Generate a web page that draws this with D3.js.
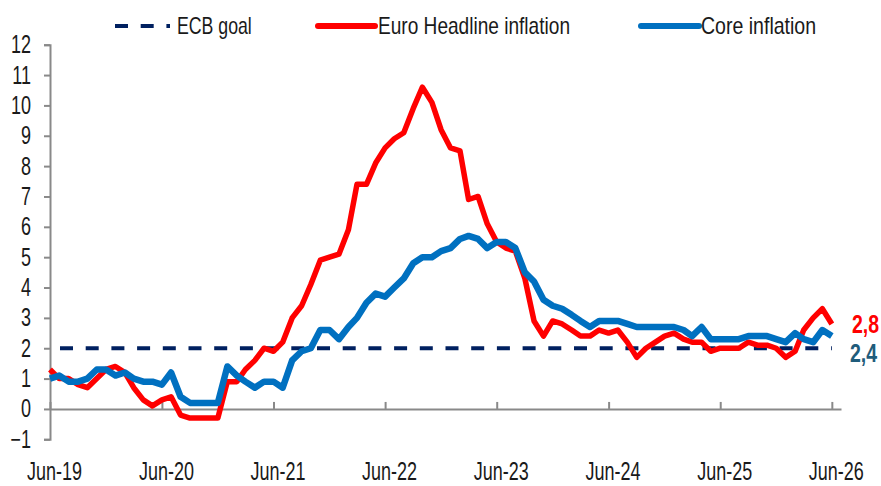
<!DOCTYPE html>
<html>
<head>
<meta charset="utf-8">
<script src="https://cdn.jsdelivr.net/npm/d3@7"></script>
<style>
  html, body { margin: 0; padding: 0; background: #fff; }
  svg { display: block; }
</style>
</head>
<body>
<div id="chart"></div>
<script>
// Monthly categories: Jun-19 .. Jun-26
const months = d3.timeMonth.range(new Date(2019, 5, 1), new Date(2026, 6, 1));

// Euro area headline HICP, % y/y
const headline = [
  1.3, 1.0, 1.0, 0.8, 0.7, 1.0, 1.3,
  1.4, 1.2, 0.7, 0.3, 0.1, 0.3, 0.4, -0.2, -0.3, -0.3, -0.3, -0.3,
  0.9, 0.9, 1.3, 1.6, 2.0, 1.9, 2.2, 3.0, 3.4, 4.1, 4.9, 5.0,
  5.1, 5.9, 7.4, 7.4, 8.1, 8.6, 8.9, 9.1, 9.9, 10.6, 10.1, 9.2,
  8.6, 8.5, 6.9, 7.0, 6.1, 5.5, 5.3, 5.2, 4.3, 2.9, 2.4, 2.9,
  2.8, 2.6, 2.4, 2.4, 2.6, 2.5, 2.6, 2.2, 1.7, 2.0, 2.2, 2.4,
  2.5, 2.3, 2.2, 2.2, 1.9, 2.0, 2.0, 2.0, 2.2, 2.1, 2.1, 2.0,
  1.7, 1.9, 2.6, 3.0, 3.3, 2.8
];

// Core inflation, % y/y
const core = [
  1.0, 1.1, 0.9, 0.9, 1.0, 1.3, 1.3,
  1.1, 1.2, 1.0, 0.9, 0.9, 0.8, 1.2, 0.4, 0.2, 0.2, 0.2, 0.2,
  1.4, 1.1, 0.9, 0.7, 0.9, 0.9, 0.7, 1.6, 1.9, 2.0, 2.6, 2.6,
  2.3, 2.7, 3.0, 3.5, 3.8, 3.7, 4.0, 4.3, 4.8, 5.0, 5.0, 5.2,
  5.3, 5.6, 5.7, 5.6, 5.3, 5.5, 5.5, 5.3, 4.5, 4.2, 3.6, 3.4,
  3.3, 3.1, 2.9, 2.7, 2.9, 2.9, 2.9, 2.8, 2.7, 2.7, 2.7, 2.7,
  2.7, 2.6, 2.4, 2.7, 2.3, 2.3, 2.3, 2.3, 2.4, 2.4, 2.4, 2.3,
  2.2, 2.5, 2.3, 2.2, 2.6, 2.4
];

const ecbGoal = 2;
const yTicks = [-1, 0, 1, 2, 3, 4, 5, 6, 7, 8, 9, 10, 11, 12];
const xTickYears = [2019, 2020, 2021, 2022, 2023, 2024, 2025, 2026];
const legendLabels = ["ECB goal", "Euro Headline inflation", "Core inflation"];
const endLabels = ["2,8", "2,4"];

const width = 881;
const height = 486;
// no narrow font installed -> squeeze Liberation Sans horizontally
const font = "'Liberation Sans', Arial, sans-serif";
const axisColor = "#898989";
const textColor = "#1a1a1a";
const red = "#ff0000";
const blue = "#0070c0";
const navy = "#002060";
const teal = "#1f5c7b";

// Turn a text's x into a translate so it can be squeezed without moving
function narrow(sel, sx, dx = 0) {
  sel.each(function () {
    const t = d3.select(this);
    const x = +t.attr("x") || 0;
    t.attr("x", 0).attr("transform", `translate(${x + dx},0) scale(${sx},1)`);
  });
}

// Scales
const xScale = d3
  .scaleTime()
  .domain([new Date(2019, 5, 1), new Date(2026, 6, 1)])
  .range([50, 841]);

const yScale = d3.scaleLinear().domain([-1, 12]).range([439.3, 44.7]);

const svg = d3
  .select("#chart")
  .append("svg")
  .attr("width", width)
  .attr("height", height)
  .style("background", "#fff");

// Y axis
const yAxis = d3
  .axisLeft(yScale)
  .tickValues(yTicks)
  .tickSizeInner(6)
  .tickSizeOuter(6)
  .tickPadding(13)
  .tickFormat(d3.format("d"));
const gy = svg.append("g").attr("transform", "translate(50,0)").call(yAxis);
gy.selectAll("path, line").attr("stroke", axisColor).attr("stroke-width", 2);
gy.selectAll("text")
  .attr("font-family", font)
  .attr("font-size", "25px")
  .attr("fill", textColor)
  .call(narrow, 0.72);

// X axis at zero, ticks pointing up, labels at bottom
const xAxis = d3
  .axisBottom(xScale)
  .tickValues(xTickYears.map((y) => new Date(y, 5, 1)))
  .tickSizeInner(-7)
  .tickSizeOuter(0)
  .tickPadding(53)
  .tickFormat(d3.timeFormat("%b-%y"));
const gx = svg
  .append("g")
  .attr("transform", `translate(0, ${yScale(0)})`)
  .call(xAxis);
gx.selectAll("path, line").attr("stroke", axisColor).attr("stroke-width", 2);
gx.selectAll("text")
  .attr("font-family", font)
  .attr("font-size", "25px")
  .attr("fill", textColor)
  .call(narrow, 0.72, 4);

// ECB goal dashed line
svg
  .append("line")
  .attr("x1", xScale(months[0]))
  .attr("x2", xScale(months[months.length - 1]))
  .attr("y1", yScale(ecbGoal))
  .attr("y2", yScale(ecbGoal))
  .attr("stroke", navy)
  .attr("stroke-width", 4)
  .attr("stroke-dasharray", "13 12.7")
  .attr("stroke-dashoffset", 15.7);

const line = d3
  .line()
  .x((d, i) => xScale(months[i]))
  .y((d) => yScale(d));

// Headline
svg
  .append("path")
  .datum(headline)
  .attr("d", line)
  .attr("fill", "none")
  .attr("stroke", red)
  .attr("stroke-width", 5.5)
  .attr("stroke-linejoin", "round");

// Core
svg
  .append("path")
  .datum(core)
  .attr("d", line)
  .attr("fill", "none")
  .attr("stroke", blue)
  .attr("stroke-width", 6.5)
  .attr("stroke-linejoin", "round");

// End labels
const lastIdx = months.length - 1;
svg
  .append("text")
  .attr("x", 852)
  .attr("y", yScale(headline[lastIdx]) + 9)
  .attr("font-family", font)
  .attr("font-size", "25px")
  .attr("font-weight", "bold")
  .attr("fill", red)
  .text(endLabels[0])
  .call(narrow, 0.78);

svg
  .append("text")
  .attr("x", 850)
  .attr("y", yScale(core[lastIdx]) + 26)
  .attr("font-family", font)
  .attr("font-size", "25px")
  .attr("font-weight", "bold")
  .attr("fill", teal)
  .text(endLabels[1])
  .call(narrow, 0.78);

// Legend
const legendY = 26;
const legend = svg.append("g");

function legendText(x, label, sx) {
  legend
    .append("text")
    .attr("x", x)
    .attr("y", legendY + 8)
    .attr("font-family", font)
    .attr("font-size", "23px")
    .attr("fill", textColor)
    .text(label)
    .call(narrow, sx);
}

legend
  .append("line")
  .attr("x1", 115)
  .attr("x2", 170)
  .attr("y1", legendY)
  .attr("y2", legendY)
  .attr("stroke", navy)
  .attr("stroke-width", 4)
  .attr("stroke-dasharray", "13 12.7");
legendText(177, legendLabels[0], 0.77);

legend
  .append("line")
  .attr("x1", 318)
  .attr("x2", 375)
  .attr("y1", legendY)
  .attr("y2", legendY)
  .attr("stroke", red)
  .attr("stroke-width", 6)
  .attr("stroke-linecap", "round");
legendText(378, legendLabels[1], 0.83);

legend
  .append("line")
  .attr("x1", 641)
  .attr("x2", 699)
  .attr("y1", legendY)
  .attr("y2", legendY)
  .attr("stroke", blue)
  .attr("stroke-width", 6)
  .attr("stroke-linecap", "round");
legendText(701, legendLabels[2], 0.85);
</script>
</body>
</html>
